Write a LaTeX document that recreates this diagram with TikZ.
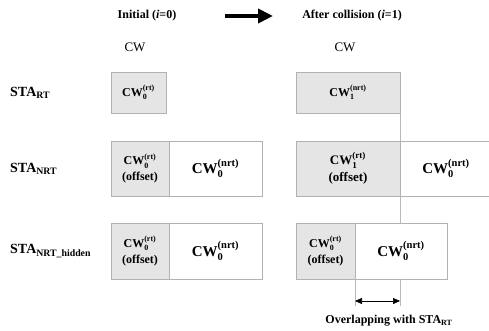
\documentclass[tikz,border=0pt]{standalone}
\usepackage{amsmath}
\usepackage{fontspec}
\setmainfont{Liberation Serif}
\usetikzlibrary{arrows.meta,positioning}
\newcommand{\cwl}[2]{CW$_{\text{#1}}^{\text{(#2)}}$}
\tikzset{
	titlelab/.style={font=\bfseries\fontsize{12}{14}\selectfont},
	cwhead/.style={font=\fontsize{13}{15}\selectfont},
	stalab/.style={anchor=west, inner sep=0pt, font=\bfseries\fontsize{14}{16}\selectfont},
	rtbox/.style={draw=gray!60, fill=gray!20, line width=0.6pt, inner sep=0pt, outer sep=0pt, anchor=north west, align=center, font=\bfseries\fontsize{12}{16}\selectfont},
	nrtbox/.style={draw=gray!60, fill=white, line width=0.6pt, inner sep=0pt, outer sep=0pt, anchor=north west, align=center, font=\bfseries\fontsize{15}{16}\selectfont},
	guide/.style={draw=gray!55, line width=0.5pt},
	bigarrow/.style={line width=4pt, -{Triangle[length=15pt,width=14pt]}},
	overarrow/.style={line width=0.6pt, {Triangle[length=7pt,width=6pt]}-{Triangle[length=7pt,width=6pt]}}
}
\begin{document}
\begin{tikzpicture}[x=1pt,y=-1pt]
	\useasboundingbox (0,0) rectangle (489,331);
	% headings
	\node[titlelab] (ini) at (147,16) {Initial (\textit{i}=0)};
	\node[titlelab] (aft) at (352,16) {After collision (\textit{i}=1)};
	\coordinate (arrS) at (225,16);
	\coordinate (arrE) at (273,16);
	\draw[bigarrow] (arrS) -- (arrE);
	\node[cwhead] (cwIni) at (135,47) {CW};
	\node[cwhead] (cwAft) at (345,47) {CW};
	
	% station labels
	\node[stalab] (staRT) at (10,93) {STA$_{\text{RT}}$};
	\node[stalab] (staNRT) at (10,169) {STA$_{\text{NRT}}$};
	\node[stalab] (staHid) at (10,251) {STA$_{\text{NRT\_hidden}}$};
	
	% guide lines
	\coordinate (gEndA) at (400,306);
	\coordinate (gEndB) at (355,306);
	\draw[guide] (400,72) -- (gEndA);
	
	% initial
	\node[rtbox, minimum width=55pt, minimum height=41pt] (rtIni) at (111,72) {\cwl{0}{rt}};
	\node[rtbox, minimum width=58pt, minimum height=55pt] (nrtOffIni) at (111,141) {\cwl{0}{rt}\\(offset)};
	\node[nrtbox, minimum width=93pt, minimum height=55pt] (nrtIni) at (nrtOffIni.north east) {\cwl{0}{nrt}};
	\node[rtbox, minimum width=58pt, minimum height=56pt] (hidOffIni) at (111,223) {\cwl{0}{rt}\\(offset)};
	\node[nrtbox, minimum width=93pt, minimum height=56pt] (hidIni) at (hidOffIni.north east) {\cwl{0}{nrt}};
	
	% after collision
	\node[rtbox, minimum width=104pt, minimum height=41pt] (rtAft) at (296,72) {\cwl{1}{nrt}};
	\node[rtbox, minimum width=104pt, minimum height=55pt, font=\bfseries\fontsize{13}{17}\selectfont] (nrtOffAft) at (296,141) {\cwl{1}{rt}\\(offset)};
	\node[nrtbox, minimum width=92pt, minimum height=55pt] (nrtAft) at (nrtOffAft.north east) {\cwl{0}{nrt}};
	\node[rtbox, minimum width=59pt, minimum height=56pt] (hidOffAft) at (296,223) {\cwl{0}{rt}\\(offset)};
	\node[nrtbox, minimum width=92pt, minimum height=56pt] (hidAft) at (hidOffAft.north east) {\cwl{0}{nrt}};
	
	% overlap
	\draw[guide] (hidAft.south west) -- (gEndB);
	\draw[guide] (hidAft.south west -| gEndA) -- (gEndA);
	\coordinate (ovL) at (355,301);
	\coordinate (ovR) at (400,301);
	\draw[overarrow] (ovL) -- (ovR);
	\node[titlelab] (ovLab) at (389,321) {Overlapping with STA$_{\text{RT}}$};
\end{tikzpicture}
\end{document}
